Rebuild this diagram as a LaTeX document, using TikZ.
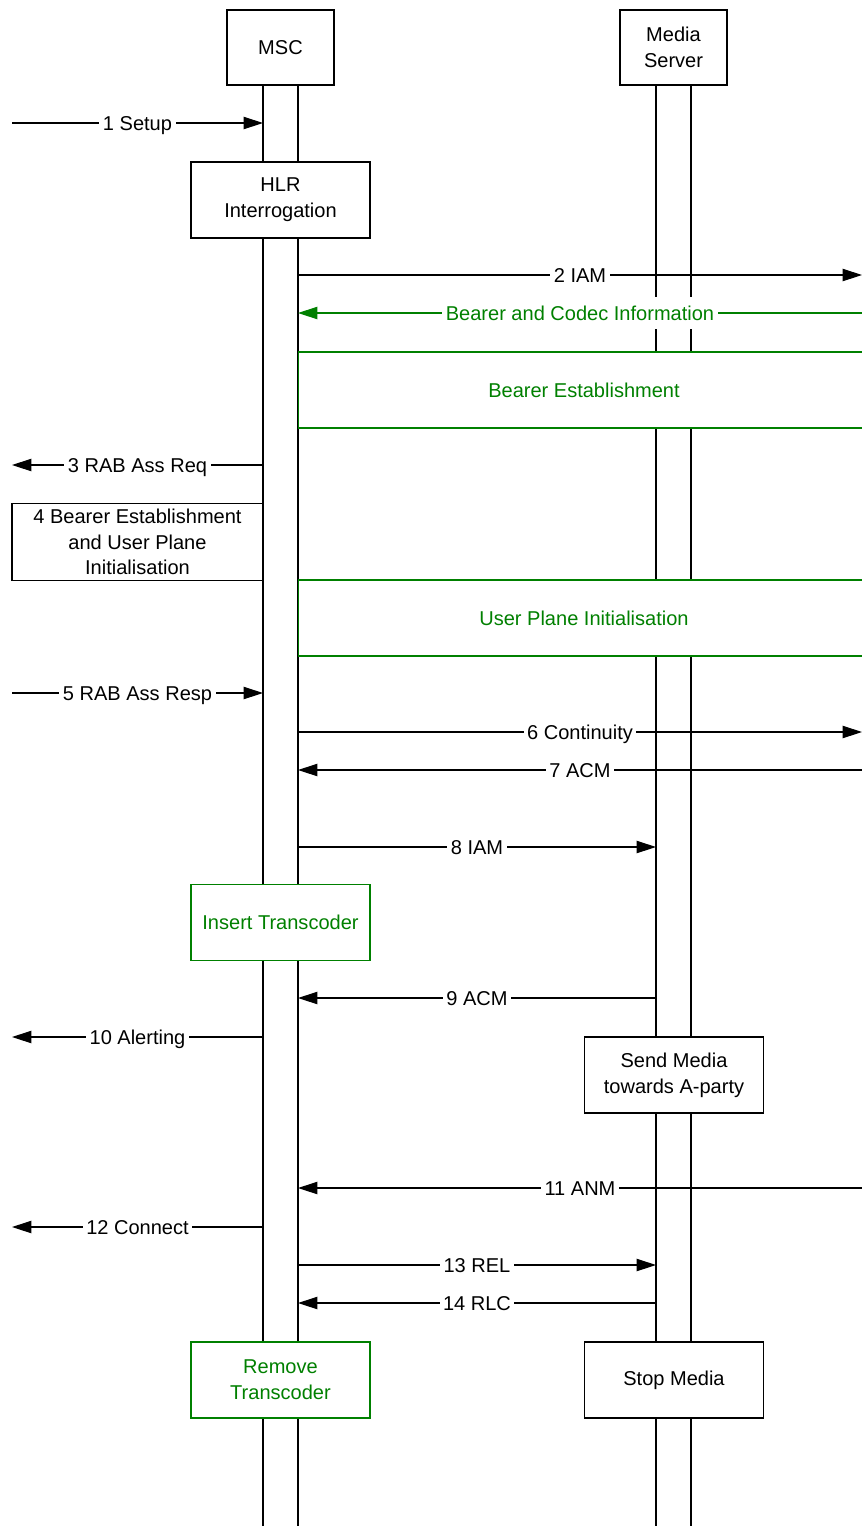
\documentclass[tikz,border=0pt]{standalone}
\usepackage{fontspec}
\setmainfont{Liberation Sans}
\usepackage{xcolor}
\usetikzlibrary{arrows.meta}
\definecolor{msgreen}{RGB}{0,128,0}

\begin{document}
\begin{tikzpicture}[x=0.02cm,y=0.02cm,line width=0.6pt,
  entity/.style={draw,fill=white,minimum width=2.14cm,minimum height=1.5cm,align=center},
  action/.style={draw,fill=white,minimum width=3.58cm,minimum height=1.52cm,align=center},
  greenaction/.style={action,draw=msgreen,text=msgreen},
  wide/.style={draw=msgreen,text=msgreen,fill=white,minimum width=11.44cm,minimum height=1.52cm},
  lbl/.style={fill=white,text height=8.2pt,text depth=0pt,inner xsep=2pt,inner ysep=5pt},
  msg/.style={-{Triangle[length=11pt,width=7pt]}}]
\tikzstyle{every node}+=[font=\fontsize{11.4}{14.6}\selectfont]
\useasboundingbox (0,0) rectangle (862,-1526);
\coordinate (edgeL) at (12,0);
\coordinate (edgeR) at (862,0);
\coordinate (mscL) at (263,0);
\coordinate (mscR) at (298,0);
\coordinate (msL) at (656,0);
\coordinate (msR) at (691,0);
\coordinate (bottom) at (0,-1526);
\node [entity] (msc) at (280.5,-47.5) {MSC};
\node [entity] (ms) at (673.5,-47.5) {Media\\Server};
\draw (msc.south -| mscL) -- (bottom -| mscL);
\draw (msc.south -| mscR) -- (bottom -| mscR);
\draw (ms.south -| msL) -- (bottom -| msL);
\draw (ms.south -| msR) -- (bottom -| msR);
\node [action] (hlr) at (280.5,-200) {HLR\\Interrogation};
\node [wide] (bearer) at (584,-390) {Bearer Establishment};
\node [action,minimum width=5.02cm] (ranbearer) at (137.5,-542) {4 Bearer Establishment\\and User Plane\\Initialisation};
\node [wide] (upinit) at (584,-618) {User Plane Initialisation};
\node [greenaction] (instc) at (280.5,-922.5) {Insert Transcoder};
\node [action] (sendmedia) at (674,-1075) {Send Media\\towards A-party};
\node [greenaction] (remtc) at (280.5,-1380) {Remove\\Transcoder};
\node [action] (stopmedia) at (674,-1380) {Stop Media};
\coordinate (m1) at (0,-123);
\coordinate (m2) at (0,-275);
\coordinate (m3) at (0,-313);
\coordinate (m4) at (0,-465);
\coordinate (m5) at (0,-693);
\coordinate (m6) at (0,-732);
\coordinate (m7) at (0,-770);
\coordinate (m8) at (0,-847);
\coordinate (m9) at (0,-998);
\coordinate (m10) at (0,-1037);
\coordinate (m11) at (0,-1188);
\coordinate (m12) at (0,-1227);
\coordinate (m13) at (0,-1265);
\coordinate (m14) at (0,-1303);
\draw [msg] (m1 -| edgeL) -- (m1 -| mscL) node [lbl,midway] {1 Setup};
\draw [msg] (m2 -| mscR) -- (m2 -| edgeR) node [lbl,midway] {2 IAM};
\draw [msg,msgreen] (m3 -| edgeR) -- (m3 -| mscR) node [lbl,midway] {Bearer and Codec Information};
\draw [msg] (m4 -| mscL) -- (m4 -| edgeL) node [lbl,midway] {3 RAB Ass Req};
\draw [msg] (m5 -| edgeL) -- (m5 -| mscL) node [lbl,midway] {5 RAB Ass Resp};
\draw [msg] (m6 -| mscR) -- (m6 -| edgeR) node [lbl,midway] {6 Continuity};
\draw [msg] (m7 -| edgeR) -- (m7 -| mscR) node [lbl,midway] {7 ACM};
\draw [msg] (m8 -| mscR) -- (m8 -| msL) node [lbl,midway] {8 IAM};
\draw [msg] (m9 -| msL) -- (m9 -| mscR) node [lbl,midway] {9 ACM};
\draw [msg] (m10 -| mscL) -- (m10 -| edgeL) node [lbl,midway] {10 Alerting};
\draw [msg] (m11 -| edgeR) -- (m11 -| mscR) node [lbl,midway] {11 ANM};
\draw [msg] (m12 -| mscL) -- (m12 -| edgeL) node [lbl,midway] {12 Connect};
\draw [msg] (m13 -| mscR) -- (m13 -| msL) node [lbl,midway] {13 REL};
\draw [msg] (m14 -| msL) -- (m14 -| mscR) node [lbl,midway] {14 RLC};
\end{tikzpicture}
\end{document}
